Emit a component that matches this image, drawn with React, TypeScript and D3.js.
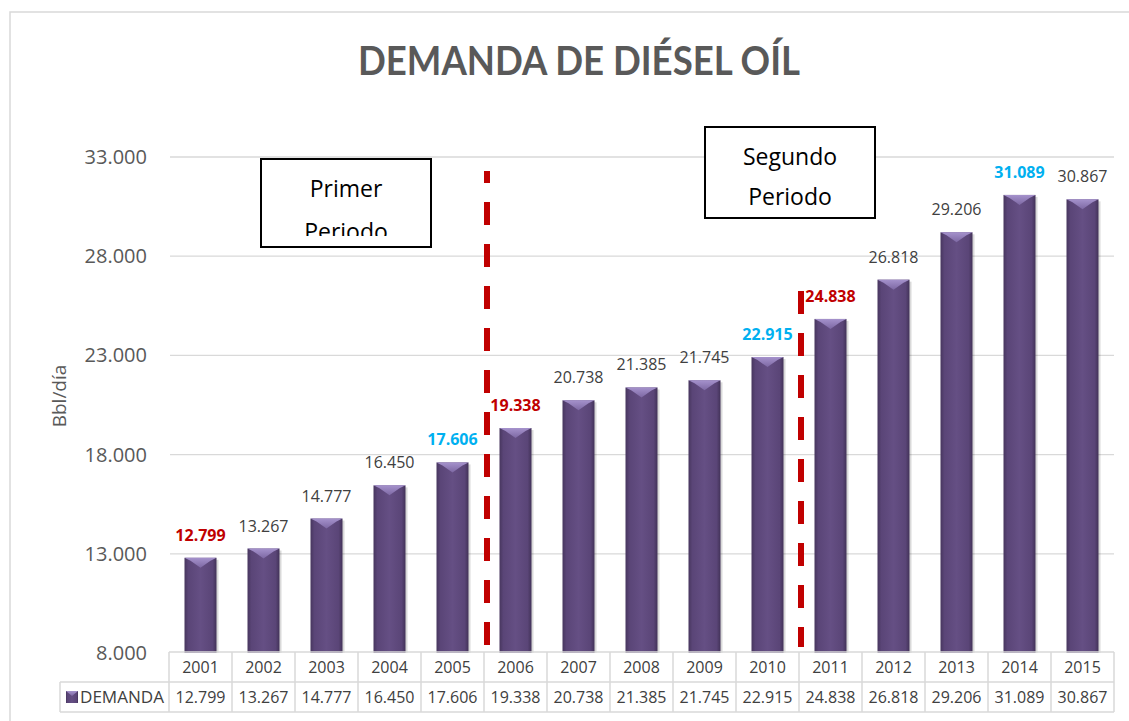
import React from "react";
import * as d3 from "d3";

const years = ["2001","2002","2003","2004","2005","2006","2007","2008","2009","2010","2011","2012","2013","2014","2015"];
const demanda = [12799,13267,14777,16450,17606,19338,20738,21385,21745,22915,24838,26818,29206,31089,30867];
const yTicks = [8000,13000,18000,23000,28000,33000];
const redYears = ["2001","2006","2011"];
const blueYears = ["2005","2010","2014"];

const fmt = (v: number) => d3.format(",")(v).replace(/,/g, ".");
const FONT = "'Open Sans', Lato, sans-serif";
const TFONT = "Lato, 'Open Sans', sans-serif";

export default function App() {
  const W = 1129, H = 721;
  const x = d3.scaleBand<string>().domain(years).range([169, 1114]);
  const y = d3.scaleLinear().domain([8000, 33000]).range([653, 157]);
  const bw = 32;
  const tableTop = 652, rowH = 30;
  const legendLeft = 60;

  const line1x = (x("2006") as number) + 3;
  const line2x = (x("2011") as number) + 2;

  return (
    <svg width={W} height={H} style={{ position: "absolute", left: 0, top: 0, background: "#fff" }}>
      <defs>
        <linearGradient id="barG" x1="0" x2="1" y1="0" y2="0">
          <stop offset="0" stopColor="#47365e" />
          <stop offset="0.12" stopColor="#5a4577" />
          <stop offset="0.5" stopColor="#654f84" />
          <stop offset="0.88" stopColor="#5a4577" />
          <stop offset="1" stopColor="#423258" />
        </linearGradient>
        <linearGradient id="bevG" x1="0" x2="0" y1="0" y2="1">
          <stop offset="0" stopColor="#a592cc" />
          <stop offset="1" stopColor="#7d68a3" />
        </linearGradient>
        <clipPath id="box1clip">
          <rect x={262} y={160} width={168} height={76} />
        </clipPath>
      </defs>
      <rect x={10} y={12} width={1200} height={800} fill="#fff" stroke="#d9d9d9" strokeWidth={1.5} />

      <text x={579} y={75} textAnchor="middle" fontFamily={TFONT} fontWeight="bold" fontSize={40}
        fill="#595959" textLength={442} lengthAdjust="spacingAndGlyphs">DEMANDA DE DIÉSEL OÍL</text>

      {yTicks.map(t => (
        <g key={t}>
          {t > 8000 && <line x1={170} x2={1114} y1={y(t)} y2={y(t)} stroke="#d9d9d9" strokeWidth={1.3} />}
          <text x={147} y={y(t) + 7} textAnchor="end" fontFamily={FONT} fontSize={20} fill="#595959">{fmt(t)}</text>
        </g>
      ))}

      <text transform={`translate(66,396) rotate(-90)`} textAnchor="middle" fontFamily={FONT} fontSize={19} fill="#595959">Bbl/día</text>

      {years.map((yr, i) => {
        const cx = (x(yr) as number) + x.bandwidth() / 2;
        const top = y(demanda[i]);
        const bottom = y(8000);
        const isRed = redYears.includes(yr);
        const isBlue = blueYears.includes(yr);
        return (
          <g key={yr}>
            <rect x={cx - bw / 2 + 2} y={top + 2} width={bw} height={bottom - top - 2} fill="#000" opacity={0.15} />
            <rect x={cx - bw / 2} y={top} width={bw} height={bottom - top} fill="url(#barG)" />
            <polygon points={`${cx - bw / 2},${top} ${cx + bw / 2},${top} ${cx + bw / 2 - 6},${top + 3} ${cx},${top + 10} ${cx - bw / 2 + 6},${top + 3}`} fill="url(#bevG)" />
            <text x={cx} y={top - 17} textAnchor="middle" fontFamily={FONT} fontSize={16}
              fontWeight={isRed || isBlue ? "bold" : "normal"}
              fill={isRed ? "#c00000" : isBlue ? "#00b0f0" : "#404040"}>{fmt(demanda[i])}</text>
          </g>
        );
      })}

      <line x1={line1x} x2={line1x} y1={171} y2={647} stroke="#c00000" strokeWidth={6} strokeDasharray="23 19" strokeDashoffset={11} />
      <line x1={line2x} x2={line2x} y1={291} y2={647} stroke="#c00000" strokeWidth={6} strokeDasharray="23 19" />

      <rect x={261} y={159} width={170} height={88} fill="#fff" stroke="#000" strokeWidth={2} />
      <g clipPath="url(#box1clip)">
        <text x={346} y={197} textAnchor="middle" fontFamily={FONT} fontSize={23} fill="#000">Primer</text>
        <text x={346} y={240} textAnchor="middle" fontFamily={FONT} fontSize={23} fill="#000">Periodo</text>
      </g>

      <rect x={705} y={127} width={170} height={91} fill="#fff" stroke="#000" strokeWidth={2} />
      <text x={790} y={165} textAnchor="middle" fontFamily={FONT} fontSize={23} fill="#000">Segundo</text>
      <text x={790} y={205} textAnchor="middle" fontFamily={FONT} fontSize={23} fill="#000">Periodo</text>

      {/* data table */}
      <g stroke="#d9d9d9" strokeWidth={1.5}>
        <line x1={169} x2={1114} y1={tableTop} y2={tableTop} />
        <line x1={legendLeft} x2={1114} y1={tableTop + rowH} y2={tableTop + rowH} />
        <line x1={legendLeft} x2={1114} y1={tableTop + 2 * rowH} y2={tableTop + 2 * rowH} />
        <line x1={legendLeft} x2={legendLeft} y1={tableTop + rowH} y2={tableTop + 2 * rowH} />
        {years.map(yr => (
          <line key={yr} x1={x(yr) as number} x2={x(yr) as number} y1={tableTop} y2={tableTop + 2 * rowH} />
        ))}
        <line x1={1114} x2={1114} y1={tableTop} y2={tableTop + 2 * rowH} />
      </g>
      {years.map((yr, i) => {
        const cx = (x(yr) as number) + x.bandwidth() / 2;
        return (
          <g key={yr}>
            <text x={cx} y={tableTop + 21} textAnchor="middle" fontFamily={FONT} fontSize={16} fill="#404040">{yr}</text>
            <text x={cx} y={tableTop + rowH + 21} textAnchor="middle" fontFamily={FONT} fontSize={16} fill="#404040">{fmt(demanda[i])}</text>
          </g>
        );
      })}
      <rect x={66} y={tableTop + rowH + 9} width={12} height={12} fill="url(#barG)" />
      <polygon points={`66,${tableTop + rowH + 9} 78,${tableTop + rowH + 9} 72,${tableTop + rowH + 14}`} fill="url(#bevG)" />
      <text x={80} y={tableTop + rowH + 21} fontFamily={FONT} fontSize={16} textLength={84} lengthAdjust="spacingAndGlyphs" fill="#404040">DEMANDA</text>
    </svg>
  );
}
